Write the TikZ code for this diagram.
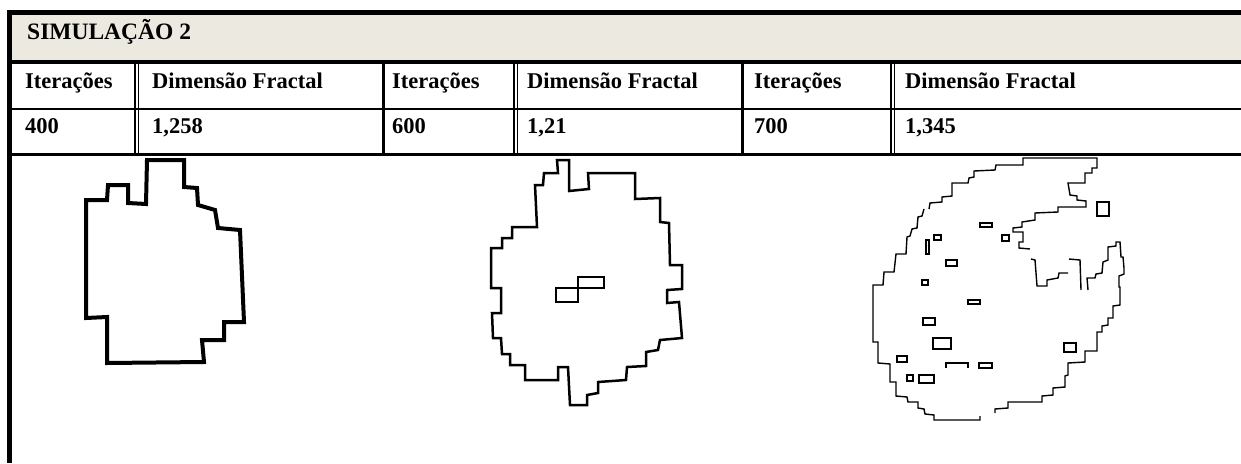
\documentclass[tikz,border=0pt]{standalone}
\usepackage{fontspec}
\setmainfont{Liberation Serif}
\definecolor{headbg}{RGB}{236,233,224}
\begin{document}
\begin{tikzpicture}[x=1pt,y=-1pt,
  celltext/.style={anchor=base west,inner sep=0pt,font=\fontsize{22.5}{27}\selectfont\bfseries},
  titletext/.style={anchor=base west,inner sep=0pt,font=\fontsize{23.5}{28}\selectfont\bfseries},
  rule/.style={line width=#1,line cap=butt},
  dbl/.style={line width=1.1pt},
  blobA/.style={line width=4pt,line join=miter},
  blobB/.style={line width=2.5pt,line join=miter},
  blobC/.style={line width=1.4pt,line join=miter}]
\useasboundingbox (0,0) rectangle (1241,463);
\fill[white] (0,0) rectangle (1241,463);

% table frame
\fill[headbg] (12,15) rectangle (1241,60);
\draw[rule=5pt] (7,12.5) -- (1241,12.5);
\draw[rule=5pt] (9.5,10) -- (9.5,463);
\draw[rule=4pt] (12,62) -- (1241,62);
\draw[rule=2pt] (12,108.5) -- (1241,108.5);
\draw[rule=3pt] (12,154.5) -- (1241,154.5);

% column separators
\foreach \x in {135,514,891}{
  \draw[dbl] (\x,64) -- (\x,156);
  \draw[dbl] (\x+3.5,64) -- (\x+3.5,156);
}
\foreach \x in {383,742}{
  \draw[rule=3pt] (\x,64) -- (\x,156);
}

% texts
\node[titletext] (title) at (27,39.5) {SIMULAÇÃO 2};
\node[celltext] (h1) at (25,88) {Iterações};
\node[celltext] (h2) at (152,88) {Dimensão Fractal};
\node[celltext] (h3) at (392,88) {Iterações};
\node[celltext] (h4) at (527,88) {Dimensão Fractal};
\node[celltext] (h5) at (754,88) {Iterações};
\node[celltext] (h6) at (905,88) {Dimensão Fractal};
\node[celltext] (v1) at (25,133) {400};
\node[celltext] (v2) at (152,133) {1,258};
\node[celltext] (v3) at (392,133) {600};
\node[celltext] (v4) at (527,133) {1,21};
\node[celltext] (v5) at (754,133) {700};
\node[celltext] (v6) at (905,133) {1,345};

% cluster after 400 iterations
\draw[blobA] (147,160) -- (184,160) -- (184,187) -- (197,188) -- (198,205) -- (215,210)
  -- (218,228) -- (240,230) -- (244,322) -- (224,322) -- (224,340) -- (202,340)
  -- (204,362) -- (107,363) -- (107,317) -- (86,318) -- (86,200) -- (107,200)
  -- (108,185) -- (128,185) -- (128,203) -- (146,204) -- cycle;

% cluster after 600 iterations
\draw[blobB] (557,160) -- (569,160) -- (569,191) -- (589,189) -- (588,173) -- (635,173)
  -- (635,199) -- (660,198) -- (660,222) -- (669,223) -- (670,265) -- (682,265)
  -- (682,289) -- (667,290) -- (667,303) -- (679,302) -- (682,338) -- (660,340)
  -- (658,350) -- (646,352) -- (646,366) -- (627,367) -- (626,380) -- (598,382)
  -- (598,393) -- (587,395) -- (587,405) -- (570,405) -- (568,367) -- (558,367)
  -- (558,380) -- (525,380) -- (525,365) -- (510,365) -- (510,354) -- (502,354)
  -- (501,338) -- (493,338) -- (492,313) -- (501,313) -- (501,288) -- (491,288)
  -- (491,248) -- (502,248) -- (502,238) -- (512,238) -- (512,227) -- (537,227)
  -- (535,185) -- (543,185) -- (544,173) -- (558,173) -- cycle;
\draw[blobB] (556,288) rectangle (578,302);
\draw[blobB] (578,277) rectangle (604,288);

% cluster after 700 iterations
\draw[blobC] (929,209) -- (930,203) -- (942,202) -- (942,197) -- (952,196) -- (952,183)
  -- (968,183) -- (969,178) -- (974,177) -- (974,171) -- (995,170) -- (996,165)
  -- (1023,165) -- (1023,158) -- (1097,158) -- (1097,168) -- (1092,168) -- (1092,173)
  -- (1085,173) -- (1085,183) -- (1068,183) -- (1070,195) -- (1077,196) -- (1077,200)
  -- (1086,201) -- (1086,207) -- (1058,207) -- (1058,212) -- (1035,213) -- (1035,220)
  -- (1022,222) -- (1022,227) -- (1013,228) -- (1013,232) -- (1023,232) -- (1023,242)
  -- (1019,242) -- (1019,248) -- (1030,249);
\draw[blobC] (1031,259) -- (1035,260) -- (1037,286) -- (1047,286) -- (1047,280)
  -- (1058,278) -- (1059,273) -- (1068,273);
\draw[blobC] (1069,259) -- (1080,260) -- (1081,290);
\draw[blobC] (1088,290) -- (1087,278) -- (1095,278) -- (1096,274) -- (1102,273)
  -- (1103,262) -- (1108,260) -- (1108,247) -- (1116,246) -- (1116,242) -- (1120,242)
  -- (1121,257) -- (1123,257) -- (1124,268) -- (1124,274) -- (1119,276) -- (1119,287)
  -- (1120,287) -- (1120,305) -- (1113,306) -- (1113,318) -- (1108,318) -- (1108,325)
  -- (1102,326) -- (1102,332) -- (1097,332) -- (1097,351) -- (1085,351) -- (1085,362)
  -- (1068,363) -- (1068,375) -- (1065,376) -- (1065,387) -- (1053,388) -- (1053,395)
  -- (1042,396) -- (1042,402) -- (1008,402) -- (1008,408) -- (995,409) -- (995,413);
\draw[blobC] (980,416) -- (980,420) -- (934,420) -- (934,415) -- (925,414) -- (924,409)
  -- (918,408) -- (918,402) -- (908,402) -- (907,397) -- (896,396) -- (896,382)
  -- (890,382) -- (890,364) -- (878,363) -- (878,342) -- (873,342) -- (873,285)
  -- (883,285) -- (884,272) -- (894,272) -- (896,254) -- (906,254) -- (907,237)
  -- (910,236) -- (912,229) -- (917,228) -- (918,217) -- (922,216) -- (924,209);
% holes inside the cluster
\draw[blobC] (980,223) rectangle (992,227);
\draw[blobC] (1002,235) rectangle (1009,241);
\draw[blobC] (1097,202) rectangle (1109,216);
\draw[blobC] (934,235) rectangle (941,240);
\draw[blobC] (926,240) rectangle (929,254);
\draw[blobC] (946,260) rectangle (957,266);
\draw[blobC] (922,280) rectangle (928,285);
\draw[blobC] (968,300) rectangle (980,304);
\draw[blobC] (923,318) rectangle (935,325);
\draw[blobC] (933,338) rectangle (951,349);
\draw[blobC] (1064,343) rectangle (1076,352);
\draw[blobC] (897,356) rectangle (907,362);
\draw[blobC] (946,368) -- (946,363) -- (968,363) -- (968,368);
\draw[blobC] (979,363) rectangle (992,368);
\draw[blobC] (907,375) rectangle (913,381);
\draw[blobC] (919,375) rectangle (934,383);
\end{tikzpicture}
\end{document}
